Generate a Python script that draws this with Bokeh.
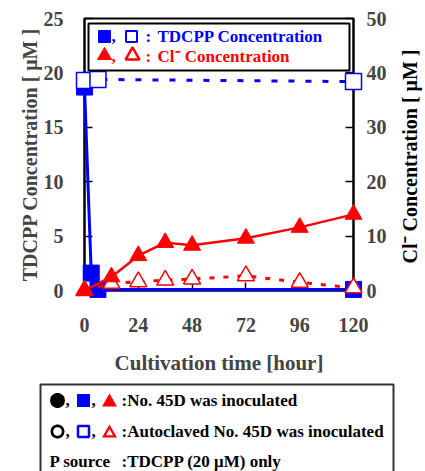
import math
from bokeh.plotting import figure
from bokeh.models import Range1d, LinearAxis, FixedTicker
from bokeh.core.properties import value
from bokeh.embed import file_html
from bokeh.resources import INLINE

# ---------------- data ----------------
t_tdcpp_bio = [0, 3, 6, 120]
tdcpp_bio = [18.7, 1.6, 0.1, 0.1]
t_tdcpp_auto = [0, 6, 120]
tdcpp_auto = [19.3, 19.4, 19.2]
t_cl = [0, 12, 24, 36, 48, 72, 96, 120]
cl_bio = [0, 2.5, 6.4, 8.8, 8.3, 9.6, 11.6, 14.0]
cl_auto = [0, 1.3, 1.6, 1.9, 2.1, 2.7, 1.5, 0.5]

x_ticks = [0, 24, 48, 72, 96, 120]
y_ticks = [0, 5, 10, 15, 20, 25]
y2_ticks = [0, 10, 20, 30, 40, 50]

right_label = "Cl\u207b Concentration [ \u03bcM ]"
top_legend = ["TDCPP Concentration", "Cl\u207b Concentration"]
box_legend = [":No. 45D was inoculated", ":Autoclaved No. 45D was inoculated"]
box_note = ["P source", ":TDCPP (20 \u03bcM) only"]

FONT = value("Liberation Serif")
BLUE = "#0000ff"
RED = "#ff0000"

W, H = 425, 471
BL, BT, FW, FH = 84, 18, 269, 272
p = figure(frame_width=FW, frame_height=FH, min_border_left=BL, min_border_right=W - BL - FW,
           min_border_top=BT, min_border_bottom=H - BT - FH,
           x_range=Range1d(0, 120), y_range=Range1d(0, 25),
           output_backend="svg", toolbar_location=None)
# pixel-like ranges (canvas coordinates) used only for annotation layout
p.extra_x_ranges = {"px": Range1d(BL, BL + FW)}
p.extra_y_ranges = {"cl": Range1d(0, 50), "px": Range1d(BT + FH, BT)}
p.grid.visible = False
p.outline_line_color = "black"
p.outline_line_width = 2

ax_right = LinearAxis(y_range_name="cl")
p.add_layout(ax_right, "right")

for ax, ticks in ((p.xaxis[0], x_ticks), (p.yaxis[0], y_ticks), (ax_right, y2_ticks)):
    ax.ticker = FixedTicker(ticks=ticks)
    ax.minor_tick_line_color = None
    ax.major_tick_in = 8
    ax.major_tick_out = 0
    ax.major_tick_line_width = 1.5
    ax.axis_line_width = 2
    ax.major_label_text_font = "Liberation Serif"
    ax.major_label_text_font_style = "bold"
    ax.major_label_text_font_size = "20px"
    ax.axis_label_text_font = "Liberation Serif"
    ax.axis_label_text_font_style = "bold"
    ax.axis_label_text_font_size = "20px"

p.xaxis.axis_label = "Cultivation time [hour]"
p.xaxis.major_label_standoff = 27
p.xaxis.axis_label_standoff = 16
p.xaxis.axis_label_text_font_size = "21px"
p.yaxis[0].axis_label = "TDCPP Concentration [ \u03bcM ]"
p.yaxis[0].major_label_standoff = 21
p.yaxis[0].axis_label_standoff = 0
ax_right.major_label_standoff = 13

LV = "overlay"
PX = dict(x_range_name="px", y_range_name="px", level=LV)
TXT = dict(text_font=FONT, text_font_style="bold", text_baseline="middle")

# right axis title, reading bottom to top
p.text(x=[409], y=[156], text=[right_label], angle=math.pi / 2, text_align="center",
       text_font_size="20px", text_color="black", **TXT, **PX)

# TDCPP series
p.line(t_tdcpp_bio, tdcpp_bio, line_color=BLUE, line_width=3, level=LV)
p.line(t_tdcpp_auto, tdcpp_auto, line_color=BLUE, line_width=3, line_dash="6 11", level=LV)
p.scatter(t_tdcpp_bio, tdcpp_bio, marker="square", size=16, fill_color=BLUE,
          line_color=BLUE, level=LV)
p.scatter(t_tdcpp_auto, tdcpp_auto, marker="square", size=16, fill_color="white",
          line_color=BLUE, line_width=1.5, level=LV)
# Cl series
p.line(t_cl, cl_bio, line_color=RED, line_width=2.5, y_range_name="cl", level=LV)
p.line(t_cl, cl_auto, line_color=RED, line_width=3, line_dash="5 9", y_range_name="cl", level=LV)
p.scatter(t_cl, cl_auto, marker="triangle", size=17, fill_color="white", line_color=RED,
          line_width=1.5, y_range_name="cl", level=LV)
p.scatter(t_cl, cl_bio, marker="triangle", size=17, fill_color=RED, line_color=RED,
          y_range_name="cl", level=LV)

# legend box inside the plot
p.quad(left=88, right=349, top=23, bottom=70, fill_color="white", line_color="black",
       line_width=2, **PX)
p.scatter([104], [36], marker="square", size=12, fill_color=BLUE, line_color=BLUE, **PX)
p.scatter([131], [36], marker="square", size=11, fill_color="white", line_color=BLUE,
          line_width=2, **PX)
p.scatter([104], [55], marker="triangle", size=14, fill_color=RED, line_color=RED, **PX)
p.scatter([132], [55], marker="triangle", size=14, fill_color="white", line_color=RED,
          line_width=2.5, **PX)
for yy, col, lab in ((36, BLUE, top_legend[0]), (56, RED, top_legend[1])):
    p.text(x=[111, 145, 157], y=[yy, yy, yy], text=[",", ":", lab], text_font_size="17px",
           text_color=col, **TXT, **PX)

# bottom note box (outside the frame: drawn with area/quad glyphs)
p.quad(left=40, right=393, top=384, bottom=490, fill_color="white", line_color="#333333",
       line_width=2, **PX)
r1, r2, r3 = 400, 431, 461


def disc(cx, cy, r, color):
    n = 24
    xs = [cx - r + 2 * r * i / n for i in range(n + 1)]
    hs = [math.sqrt(max(r * r - (x - cx) ** 2, 0)) for x in xs]
    p.varea(x=xs, y1=[cy - h for h in hs], y2=[cy + h for h in hs], fill_color=color, **PX)


def tri(cx, cy, half, hgt, color):
    base = cy + hgt / 2
    p.varea(x=[cx - half, cx, cx + half], y1=[base] * 3, y2=[base, base - hgt, base],
            fill_color=color, **PX)


disc(57, r1, 7.5, "black")
disc(57, r2, 7.0, "black")
disc(57, r2, 4.3, "white")
p.quad(left=[76.5], right=[89.5], top=[r1 - 6.5], bottom=[r1 + 6.5], fill_color=BLUE,
       line_color=None, **PX)
p.quad(left=[77.5], right=[88.5], top=[r2 - 5.5], bottom=[r2 + 5.5], fill_color="white",
       line_color=BLUE, line_width=2.5, **PX)
tri(109, r1 - 0.5, 7.5, 13, RED)
tri(109, r2 - 0.5, 7.5, 13, RED)
tri(109, r2 + 0.7, 3.4, 6.2, "white")
for rr in (r1, r2):
    p.text(x=[65, 91], y=[rr, rr], text=[",", ","], text_font_size="17px",
           text_color="black", **TXT, **PX)
p.text(x=[121, 121], y=[r1, r2], text=box_legend, text_font_size="17px",
       text_color="black", **TXT, **PX)
p.text(x=[49, 121], y=[r3, r3], text=box_note, text_font_size="17px",
       text_color="black", **TXT, **PX)

open("out.html", "w").write(file_html(p, INLINE))
